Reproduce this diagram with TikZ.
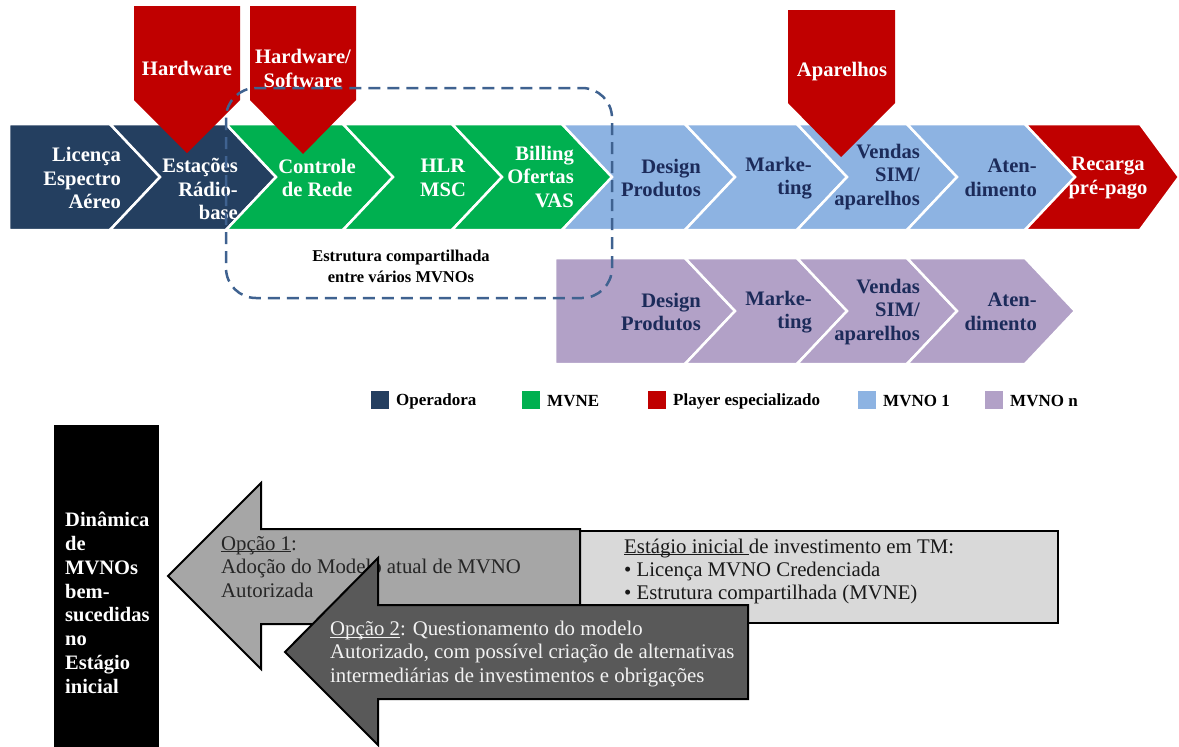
\documentclass[tikz,border=0pt]{standalone}
\usepackage{fontspec}
\setmainfont{Liberation Serif}

\definecolor{navy}{HTML}{243F60}
\definecolor{mvne}{HTML}{00B050}
\definecolor{plred}{HTML}{C00000}
\definecolor{mvnoone}{HTML}{8DB3E2}
\definecolor{mvnon}{HTML}{B2A1C7}
\definecolor{navytxt}{HTML}{1C2B5A}
\definecolor{dashblue}{HTML}{3F6290}
\definecolor{boxgray}{HTML}{D9D9D9}
\definecolor{midgray}{HTML}{A6A6A6}
\definecolor{darkgray}{HTML}{595959}

\newcommand{\chevfont}{\fontsize{20.6}{23.5}\selectfont\bfseries}
\newcommand{\legfont}{\fontsize{17}{20}\selectfont\bfseries}
\newcommand{\notefont}{\fontsize{16.5}{21}\selectfont\bfseries}
\newcommand{\bodyfont}{\fontsize{20.8}{23.5}\selectfont}
\newcommand{\blackfont}{\fontsize{20.5}{23.8}\selectfont\bfseries}
\newcommand{\ulx}[1]{\underline{\smash{#1}}}

\def\chevtip{50}
% chevron: #1 fill, #2 left x, #3 right x, #4 top y, #5 bottom y, #6 notch depth
\newcommand{\chev}[6]{%
  \pgfmathsetmacro{\chevmid}{(#4+#5)/2}%
  \filldraw[chevron, fill=#1] (#2,#4) -- (#3,#4) -- ({#3+\chevtip},\chevmid)
    -- (#3,#5) -- (#2,#5) -- ({#2+#6},\chevmid) -- cycle;}

\tikzset{
  chevron/.style={draw=white, line width=2.5, line join=miter},
  marker/.style={fill=plred, draw=none},
  wtxt/.style={text=white, font=\chevfont, inner sep=0, align=right},
  ntxt/.style={text=navytxt, font=\chevfont, inner sep=0, align=right},
  legbox/.style={minimum width=18, minimum height=18, inner sep=0},
  legtxt/.style={font=\legfont, anchor=west, inner sep=0},
  arrowshape/.style={draw=black, line width=2, line join=miter},
  bodytxt/.style={font=\bodyfont, align=left, inner sep=0, anchor=west}
}

\begin{document}
\begin{tikzpicture}[x=1pt,y=-1pt]
\useasboundingbox (0,0) rectangle (1179,747);

% ---- value chain of MVNO 1 ----
\chev{navy}{9}{110}{124}{230}{0}
\chev{navy}{110}{226}{124}{230}{\chevtip}
\chev{mvne}{226}{343}{124}{230}{\chevtip}
\chev{mvne}{343}{452}{124}{230}{\chevtip}
\chev{mvne}{452}{562}{124}{230}{\chevtip}
\chev{mvnoone}{562}{685}{124}{230}{\chevtip}
\chev{mvnoone}{685}{797}{124}{230}{\chevtip}
\chev{mvnoone}{797}{907}{124}{230}{\chevtip}
\chev{mvnoone}{907}{1025}{124}{230}{\chevtip}
{\def\chevtip{39}\chev{plred}{1025}{1140}{124}{230}{50}}

% ---- value chain of MVNO n ----
\chev{mvnon}{555}{685}{258}{364}{0}
\chev{mvnon}{685}{797}{258}{364}{\chevtip}
\chev{mvnon}{797}{907}{258}{364}{\chevtip}
\chev{mvnon}{907}{1025}{258}{364}{\chevtip}

% ---- specialised players ----
\fill[marker] (134,6) -- (240,6) -- (240,100) -- (187,153) -- (134,100) -- cycle;
\fill[marker] (250,6) -- (356,6) -- (356,100) -- (303,154) -- (250,100) -- cycle;
\fill[marker] (788,10) -- (895,10) -- (895,103) -- (841,157) -- (788,103) -- cycle;
\node[wtxt, align=center] (hw) at (187,68) {Hardware};
\node[wtxt, align=center] (hwsw) at (303,68.5) {Hardware/\\Software};
\node[wtxt, align=center] (apar) at (842,72) {Aparelhos};

% ---- chain labels ----
\node[wtxt, anchor=east] (lic) at (121,178) {Licença\\Espectro\\Aéreo};
\node[wtxt, anchor=east] (erb) at (238,189) {Estações\\Rádio-\\base};
\node[wtxt, align=center] (ctrl) at (317,178) {Controle\\de Rede};
\node[wtxt, align=center] (hlr) at (443,178) {HLR\\MSC};
\node[wtxt, anchor=east] (bill) at (574,177) {Billing\\Ofertas\\VAS};
\node[ntxt, anchor=east] (des1) at (701,178) {Design\\Produtos};
\node[ntxt, anchor=east] (mkt1) at (812,178) {Marke-\\ting};
\node[ntxt, anchor=east] (ven1) at (920,177) {Vendas\\SIM/\\aparelhos};
\node[ntxt, anchor=east] (ate1) at (1037,178) {Aten-\\dimento};
\node[wtxt, align=center] (rec) at (1108,178) {Recarga\\pré-pago};

\node[ntxt, anchor=east] (desn) at (701,312) {Design\\Produtos};
\node[ntxt, anchor=east] (mktn) at (812,312) {Marke-\\ting};
\node[ntxt, anchor=east] (venn) at (920,312) {Vendas\\SIM/\\aparelhos};
\node[ntxt, anchor=east] (aten) at (1037,312) {Aten-\\dimento};

% ---- shared structure ----
\draw[dashblue, line width=2.5, dash pattern=on 12 off 7, rounded corners=30]
  (226,88) rectangle (612,298);
\node[font=\notefont, align=center, inner sep=0] (shared) at (401,266)
  {Estrutura compartilhada\\entre vários MVNOs};

% ---- legend ----
\node[legbox, fill=navy] (lg1) at (380,400) {};
\node[legtxt] (lt1) at (396,401) {Operadora};
\node[legbox, fill=mvne] (lg2) at (531,400) {};
\node[legtxt] (lt2) at (547,401) {MVNE};
\node[legbox, fill=plred] (lg3) at (657,400) {};
\node[legtxt] (lt3) at (673,401) {Player especializado};
\node[legbox, fill=mvnoone] (lg4) at (867,400) {};
\node[legtxt] (lt4) at (883,401) {MVNO 1};
\node[legbox, fill=mvnon] (lg5) at (994,400) {};
\node[legtxt] (lt5) at (1010,401) {MVNO n};

% ---- MVNO dynamics ----
\fill[black] (54,425) rectangle (159,747);
\node[font=\blackfont, text=white, align=left, inner sep=0, anchor=north west] (dyn) at (65,512)
  {Dinâmica\\de\\MVNOs\\bem-\\sucedidas\\no\\Estágio\\inicial};

\filldraw[arrowshape, fill=boxgray] (580,531) rectangle (1058,623);
\node[bodytxt, text=black!90] (stage) at (624,571)
  {\ulx{Estágio inicial }de investimento em TM:\\[-0.5pt]
   \textbullet{} Licença MVNO Credenciada\\[-0.5pt]
   \textbullet{} Estrutura compartilhada (MVNE)};

\filldraw[arrowshape, fill=midgray] (168,576) -- (261,483) -- (261,529) -- (580,529)
  -- (580,624) -- (261,624) -- (261,669) -- cycle;
\node[bodytxt, text=black!85] (opt1) at (221,569)
  {\ulx{Opção 1}:\\Adoção do Modelo atual de MVNO\\Autorizada};

\filldraw[arrowshape, fill=darkgray] (285,652) -- (378,558) -- (378,605) -- (748,605)
  -- (748,699) -- (378,699) -- (378,745) -- cycle;
\node[bodytxt, text=white!95!black] (opt2) at (330,654)
  {\ulx{Opção 2}: Questionamento do modelo\\Autorizado, com possível criação de alternativas\\intermediárias de investimentos e obrigações};

\end{tikzpicture}
\end{document}
